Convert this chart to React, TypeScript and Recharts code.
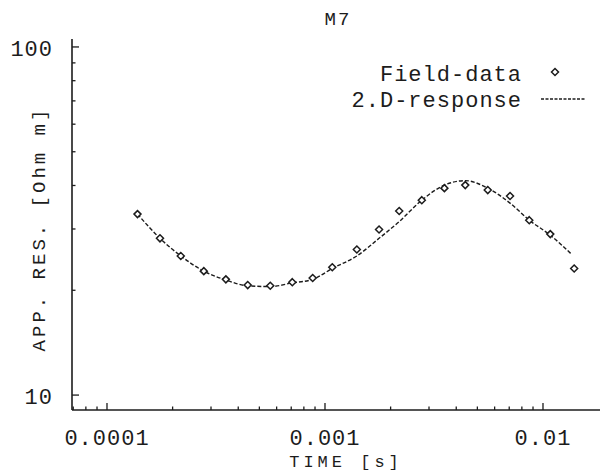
import { ComposedChart, Line, Scatter, XAxis, YAxis, Legend } from "recharts";

// transient sounding M7: apparent resistivity vs. time
const fieldTime = [
  1.38e-4, 1.75e-4, 2.18e-4, 2.78e-4, 3.51e-4, 4.42e-4, 5.61e-4, 7.08e-4, 8.78e-4, 1.08e-3,
  1.4e-3, 1.77e-3, 2.19e-3, 2.78e-3, 3.53e-3, 4.4e-3, 5.58e-3, 7.06e-3, 8.65e-3, 1.08e-2, 1.39e-2,
];
const fieldRes = [
  33.1, 28.2, 25.1, 22.7, 21.5, 20.7, 20.6, 21.1, 21.7, 23.3,
  26.2, 29.9, 33.8, 36.3, 39.3, 40.1, 38.8, 37.3, 31.8, 29.0, 23.1,
];

const responseTime = [
  1.38e-4, 1.75e-4, 2.18e-4, 2.78e-4, 3.51e-4, 4.42e-4, 5.61e-4, 7.08e-4, 8.78e-4, 1.08e-3,
  1.4e-3, 1.77e-3, 2.19e-3, 2.78e-3, 3.53e-3, 4.4e-3, 5.58e-3, 7.06e-3, 8.65e-3, 1.08e-2, 1.35e-2,
];
const responseRes = [
  33.1, 28.2, 25.1, 22.7, 21.4, 20.6, 20.5, 21.0, 21.5, 23.1,
  25.1, 28.2, 31.5, 36.3, 40.1, 41.3, 39.3, 35.6, 31.8, 28.8, 25.4,
];

const timeTicks = [
  7e-5, 8e-5, 9e-5,
  1e-4, 2e-4, 3e-4, 4e-4, 5e-4, 6e-4, 7e-4, 8e-4, 9e-4,
  1e-3, 2e-3, 3e-3, 4e-3, 5e-3, 6e-3, 7e-3, 8e-3, 9e-3,
  1e-2,
];
const timeLabels: [number, string][] = [
  [1e-4, "0.0001"],
  [1e-3, "0.001"],
  [1e-2, "0.01"],
];
const resTicks = [10, 20, 30, 40, 50, 60, 70, 80, 90, 100];
const resLabels: [number, string][] = [
  [10, "10"],
  [100, "100"],
];

const fieldData = fieldTime.map((t, i) => ({ t, r: fieldRes[i] }));
const responseData = responseTime.map((t, i) => ({ t, r: responseRes[i] }));

const INK = "#1c1c1c";
const MONO = "'Liberation Mono', monospace";

function labelFor(list: [number, string][], v: number) {
  const hit = list.find(([k]) => Math.abs(k - v) / k < 1e-6);
  return hit ? hit[1] : null;
}

function BottomTick({ x, y, payload }: any) {
  const label = labelFor(timeLabels, payload.value);
  const len = label ? 7 : 3.5;
  return (
    <g>
      <line x1={x} x2={x} y1={y} y2={y - len} stroke={INK} strokeWidth={1.3} />
      {label && (
        <text x={x} y={y + 35} textAnchor="middle" fontFamily={MONO} fontSize={22} letterSpacing={1} fill={INK}>
          {label}
        </text>
      )}
    </g>
  );
}

function TopTick({ x, y, payload }: any) {
  const len = labelFor(timeLabels, payload.value) ? 7 : 3.5;
  return <line x1={x} x2={x} y1={y} y2={y + len} stroke={INK} strokeWidth={1.3} />;
}

function LeftTick({ x, y, payload }: any) {
  const label = labelFor(resLabels, payload.value);
  const len = label ? 7 : 3.5;
  return (
    <g>
      <line x1={x} x2={x + len} y1={y} y2={y} stroke={INK} strokeWidth={1.3} />
      {label && (
        <text x={x - 19} y={y + 9} textAnchor="end" fontFamily={MONO} fontSize={22} letterSpacing={1} fill={INK}>
          {label}
        </text>
      )}
    </g>
  );
}

function Diamond({ cx, cy }: any) {
  const s = 3.5;
  return (
    <polygon
      points={`${cx},${cy - s} ${cx + s},${cy} ${cx},${cy + s} ${cx - s},${cy}`}
      fill="#fff"
      stroke={INK}
      strokeWidth={1.5}
    />
  );
}

function KeyBox() {
  return (
    <svg width={270} height={64}>
      <text x={192} y={26} textAnchor="end" fontFamily={MONO} fontSize={22} letterSpacing={1} fill={INK}>
        Field-data
      </text>
      <Diamond cx={225} cy={17} />
      <text x={192} y={52} textAnchor="end" fontFamily={MONO} fontSize={22} letterSpacing={1} fill={INK}>
        2.D-response
      </text>
      <line x1={211} x2={255} y1={44} y2={44} stroke={INK} strokeWidth={1.3} strokeDasharray="3 1.5" />
    </svg>
  );
}

export default function App() {
  return (
    <div style={{ position: "absolute", left: 0, top: 0, width: 600, height: 474, background: "#fff", overflow: "hidden" }}>
      <ComposedChart width={600} height={474} margin={{ top: 39, right: 0, left: 0, bottom: 0 }}>
        <XAxis
          dataKey="t"
          type="number"
          scale="log"
          domain={[6.91e-5, 0.01826]}
          allowDataOverflow
          ticks={timeTicks}
          interval={0}
          height={64}
          tickSize={0}
          tickMargin={0}
          tick={<BottomTick />}
          axisLine={{ stroke: INK, strokeWidth: 1.6 }}
        />
        <XAxis
          xAxisId="top"
          orientation="top"
          dataKey="t"
          type="number"
          scale="log"
          domain={[6.91e-5, 0.01826]}
          allowDataOverflow
          ticks={timeTicks}
          interval={0}
          height={0}
          tickSize={0}
          tickMargin={0}
          tick={<TopTick />}
          axisLine={{ stroke: INK, strokeWidth: 1.6 }}
        />
        <YAxis
          type="number"
          scale="log"
          domain={[9.06, 105.4]}
          allowDataOverflow
          ticks={resTicks}
          interval={0}
          width={72}
          tickSize={0}
          tickMargin={0}
          tick={<LeftTick />}
          axisLine={{ stroke: INK, strokeWidth: 1.6 }}
        />
        <Legend
          layout="horizontal"
          verticalAlign="middle"
          align="center"
          wrapperStyle={{ left: 330, top: 55, width: 270, height: 64 }}
          content={() => <KeyBox />}
        />
        <Line
          data={responseData}
          dataKey="r"
          type="monotone"
          stroke={INK}
          strokeWidth={1.4}
          strokeDasharray="4 2"
          dot={false}
          isAnimationActive={false}
        />
        <Scatter data={fieldData} dataKey="r" shape={<Diamond />} isAnimationActive={false} />
        <text x={338} y={25} textAnchor="middle" fontFamily={MONO} fontSize={19} letterSpacing={2} fill={INK}>
          M7
        </text>
        <text x={346} y={467} textAnchor="middle" fontFamily={MONO} fontSize={17} letterSpacing={4} fill={INK}>
          TIME [s]
        </text>
        <text
          x={45}
          y={229}
          textAnchor="middle"
          transform="rotate(-90, 45, 229)"
          fontFamily={MONO}
          fontSize={19}
          letterSpacing={3}
          fill={INK}
        >
          APP. RES. [Ohm m]
        </text>
      </ComposedChart>
    </div>
  );
}
